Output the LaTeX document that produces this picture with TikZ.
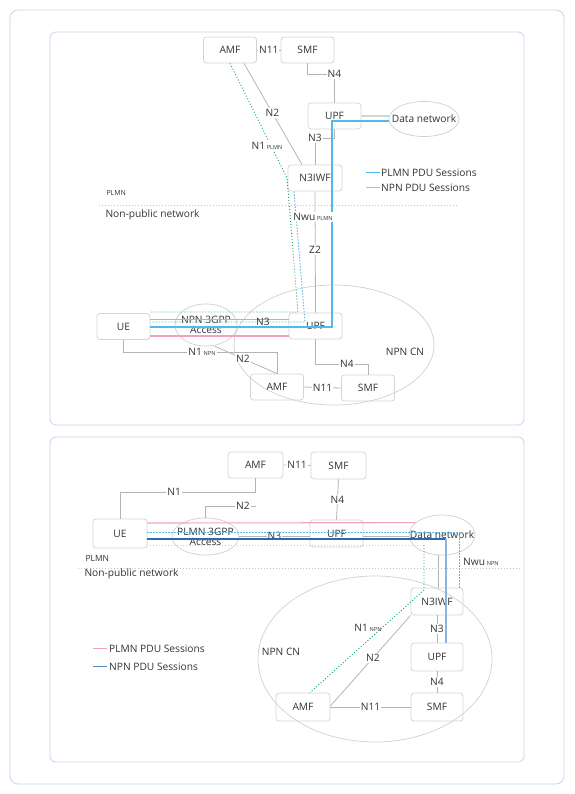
\documentclass[tikz,border=0pt]{standalone}
\usepackage{fontspec}
\setmainfont{Open Sans}
\usetikzlibrary{shapes.geometric}
\definecolor{txt}{HTML}{333333}
\definecolor{boxc}{HTML}{D4D4D4}
\definecolor{ellc}{HTML}{D0D0D0}
\definecolor{lnc}{HTML}{B4B4B4}
\definecolor{sepc}{HTML}{C4C4C4}
\definecolor{framec}{HTML}{C6D3EA}
\definecolor{grnc}{HTML}{1AA866}
\definecolor{lbdc}{HTML}{5AB6E2}
\definecolor{plmnb}{HTML}{52B9EC}
\definecolor{pinkc}{HTML}{F2A2BA}
\definecolor{darkb}{HTML}{2A6AB5}
\definecolor{vertb}{HTML}{8DB2E2}
\definecolor{lgc}{HTML}{C8D0D0}
\newcommand{\subt}[1]{\,{\fontsize{5.6}{6}\selectfont #1}}
\begin{document}
\begin{tikzpicture}[x=1pt,y=-1pt,
  every node/.style={text=txt, font=\fontsize{10.2}{11.5}\selectfont},
  box/.style={draw=boxc, line width=0.8pt, rounded corners=3pt, minimum width=53pt, minimum height=26pt, inner sep=1pt},
  ell/.style={ellipse, draw=ellc, line width=0.7pt, inner sep=0pt},
  ln/.style={draw=lnc, line width=0.8pt},
  lbl/.style={fill=white, inner sep=1pt},
  sepline/.style={draw=sepc, line width=0.7pt, dash pattern=on 1.2pt off 1.8pt},
  grn/.style={draw=grnc, line width=0.9pt, dash pattern=on 1pt off 2pt},
  lbd/.style={draw=lbdc, line width=0.8pt, dash pattern=on 1.5pt off 1.5pt},
]
\useasboundingbox (0,0) rectangle (574,794);
\draw[draw=framec, line width=0.8pt, rounded corners=8pt] (10,10) rectangle (564,784);
\draw[draw=framec, line width=0.8pt, rounded corners=6pt] (50,32) rectangle (524,425);
\draw[draw=framec, line width=0.8pt, rounded corners=6pt] (50,437) rectangle (524,762);

% ================= TOP PANEL =================
\node[ell, minimum width=200pt, minimum height=120pt] (cn1) at (334,345) {};
\node[box] (amf1) at (230,50) {AMF};
\node[box] (smf1) at (307.5,50) {SMF};
\node[box] (upf1) at (334.5,116) {UPF};
\node[ell, minimum width=70pt, minimum height=35pt] (dn1) at (424,119) {};
\node (dn1t) at (dn1.center) {Data network};
\node[box, minimum width=54pt] (n3iwf1) at (315,178) {N3IWF};
\node[box] (ue1) at (123.5,326.5) {UE};
\node[ell, minimum width=62pt, minimum height=42pt] (acc1) at (206,325) {};
\node[align=center, font=\fontsize{10.2}{10}\selectfont] (acc1t) at (acc1.center) {NPN 3GPP\\Access};
\node[box] (upf2) at (315.5,326) {UPF};
\node[box] (amf2) at (277,387) {AMF};
\node[box] (smf2) at (368,388) {SMF};
\node (cnl1) at (405,352) {NPN CN};

% separator
\draw[sepline] (99,205) -- (458,205);
\node[font=\fontsize{7}{8}\selectfont, anchor=west] (plmn1) at (103,193) {PLMN};
\node[anchor=west] (npn1) at (102,215) {Non-public network};

% legend
\draw[plmnb, line width=0.9pt] (366,172) -- (380,172);
\node[anchor=west, inner sep=1pt] (lg1) at (380,172.5) {PLMN PDU Sessions};
\draw[pinkc, line width=0.9pt] (366,187) -- (380,187);
\node[anchor=west, inner sep=1pt] (lg2) at (380,187.5) {NPN PDU Sessions};

% connectors
\draw[ln] (amf1.east) -- node[lbl]{N11} (smf1.west);
\draw[ln] (smf1.south) -- (smf1.south |- 0,74) -| node[lbl, pos=0.5]{N4} (upf1.north);
\draw[ln] (upf1.south) -- (upf1.south |- 0,138) -| node[lbl, pos=0.5]{N3} (n3iwf1.north);
\draw[ln, line width=1.8pt, draw=boxc] (upf1.east |- 0,116) -- (dn1.west |- 0,116);
\draw[ln] ([xshift=14pt]amf1.south) -- node[lbl, pos=0.49]{N2} ([xshift=-13pt]n3iwf1.north);
% green dotted N1 PLMN
\coordinate (g1) at (287,178);
\coordinate (g2) at (298,312);
\draw[grn] (amf1.south) -- (g1) -- (g2) -- (ue1.east |- g2);
\node[lbl] (n1p) at (267,146) {N1\subt{PLMN}};
% light blue dotted
\coordinate (b1) at (305,322);
\draw[lbd] ([xshift=-21pt]n3iwf1.south) -- (b1) -- (ue1.east |- b1);
% gray N3
\draw[ln] (ue1.east |- 0,319) -- (upf2.west |- 0,319);
\node[lbl, fill=none] (n3t) at (263,322) {N3};
% blue PLMN PDU
\coordinate (p1) at (332,121);
\coordinate (p2) at (332,327);
\draw[plmnb, line width=1.1pt] (dn1.west |- p1) -- (p1) -- (p2) -- (ue1.east |- p2);
% pink
\draw[pinkc, line width=1.1pt] (ue1.east |- 0,336) -- (upf2.west |- 0,336);
% Nwu / Z2
\draw[ln] (n3iwf1.south) -- (upf2.north);
\node[lbl] (nwu1) at (313,217) {Nwu\subt{PLMN}};
\node[lbl] (z2) at (315,250) {Z2};
% N1 NPN
\draw[ln] (ue1.south) -- (ue1.south |- 0,352) -- (amf2.north |- 0,352) -- (amf2.north);
\node[lbl] (n1n) at (202,352) {N1\subt{NPN}};
% N2 NPN
\draw[ln] ([xshift=9pt]acc1.south) -- node[lbl, pos=0.45]{N2} (amf2.north);
% N4, N11
\draw[ln] (upf2.south) -- (upf2.south |- 0,364) -| node[lbl, pos=0.3]{N4} (smf2.north);
\draw[ln] (amf2.east) -- node[lbl]{N11} (smf2.west);

% ================= BOTTOM PANEL =================
\node[ell, minimum width=234pt, minimum height=166pt] (cn3) at (375,659) {};
\node[box, minimum width=55pt] (amf3) at (255.5,465) {AMF};
\node[box, minimum width=55pt, minimum height=27pt] (smf3) at (338.5,465.5) {SMF};
\node[box, minimum height=27pt] (upf3) at (336.5,533.5) {UPF};
\node[ell, minimum width=66pt, minimum height=40pt] (dn3) at (442,535) {};
\node (dn3t) at (dn3.center) {Data network};
\node[box, minimum width=54pt, minimum height=29pt] (ue3) at (120,533.5) {UE};
\node[ell, minimum width=67pt, minimum height=37pt] (acc3) at (205.5,536.5) {};
\node[align=center, font=\fontsize{10.2}{10}\selectfont] (acc3t) at (acc3.center) {PLMN 3GPP\\Access};
\node[box, minimum width=52pt, minimum height=27pt] (n3iwf3) at (437,601.5) {N3IWF};
\node[box, minimum width=52pt, minimum height=28pt] (upf4) at (437,657) {UPF};
\node[box, minimum width=52pt, minimum height=28pt] (smf4) at (437,707) {SMF};
\node[box, minimum width=54pt, minimum height=28pt] (amf4) at (303,707) {AMF};
\node (cnl3) at (281,652) {NPN CN};

% separator
\draw[sepline] (78,568) -- (520,568);
\node[anchor=west, font=\fontsize{8.5}{9}\selectfont] (plmn3) at (82,558) {PLMN};
\node[anchor=west] (npn3) at (81,574) {Non-public network};

% legend
\draw[pinkc, line width=0.9pt] (93,648) -- (107,648);
\node[anchor=west, inner sep=1pt] (lg3) at (108,648.5) {PLMN PDU Sessions};
\draw[darkb!80, line width=0.9pt] (93,666) -- (107,666);
\node[anchor=west, inner sep=1pt] (lg4) at (108,666.5) {NPN PDU Sessions};

% connectors
\draw[ln] (amf3.east) -- node[lbl]{N11} (smf3.west);
\draw[ln] (smf3.south) -- node[lbl]{N4} (upf3.north);
\draw[ln] (ue3.north) -- (ue3.north |- 0,492) -- node[lbl, pos=0.4]{N1} (amf3.south |- 0,492) -- (amf3.south);
\draw[ln] (acc3.north) -- (acc3.north |- 0,506) -- node[lbl, pos=0.75]{N2} (amf3.south |- 0,506);
\draw[ln] (acc3.east |- 0,536) -- node[lbl, pos=0.5]{N3} (upf3.west |- 0,536);
\draw[ln] (upf3.east |- 0,536) -- (dn3.west |- 0,536);
% pink PLMN PDU
\draw[pinkc, line width=1.1pt] (ue3.east |- 0,523) -- (dn3.155);
% light blue dotted Nwu
\coordinate (q1) at (459,532);
\draw[lbd] (ue3.east |- q1) -- (q1) -- (q1 |- n3iwf3.north);
\node[anchor=west, inner sep=1pt] (nwu3) at (462,562) {Nwu\subt{NPN}};
% dark blue NPN PDU
\coordinate (d1) at (446,539);
\draw[darkb, line width=1.1pt] (ue3.east |- d1) -- (d1);
\draw[vertb, line width=1.8pt] (d1) -- (d1 |- upf4.north);
% gray dotted + green dotted N1 NPN
\coordinate (e1) at (424,545);
\coordinate (e2) at (424,590);
\draw[draw=lgc, line width=0.8pt, dash pattern=on 1pt off 2pt] (ue3.east |- e1) -- (e1);
\draw[grn] (e1) -- (e2) -- ([xshift=7pt]amf4.north);
\node[inner sep=1pt] (n1n3) at (368,628) {N1\subt{NPN}};
% gray DN - N3IWF
\draw[ln] ([xshift=-4pt]dn3.south) -- ([xshift=-4pt]dn3.south |- n3iwf3.north);
% NPN core
\draw[ln] (n3iwf3.south) -- node[lbl]{N3} (upf4.north);
\draw[ln] (upf4.south) -- node[lbl]{N4} (smf4.north);
\draw[ln] (amf4.east) -- node[lbl]{N11} (smf4.west);
\draw[ln] ([yshift=1pt]amf4.east) -- node[lbl, pos=0.53]{N2} (n3iwf3.south west);
\end{tikzpicture}
\end{document}
